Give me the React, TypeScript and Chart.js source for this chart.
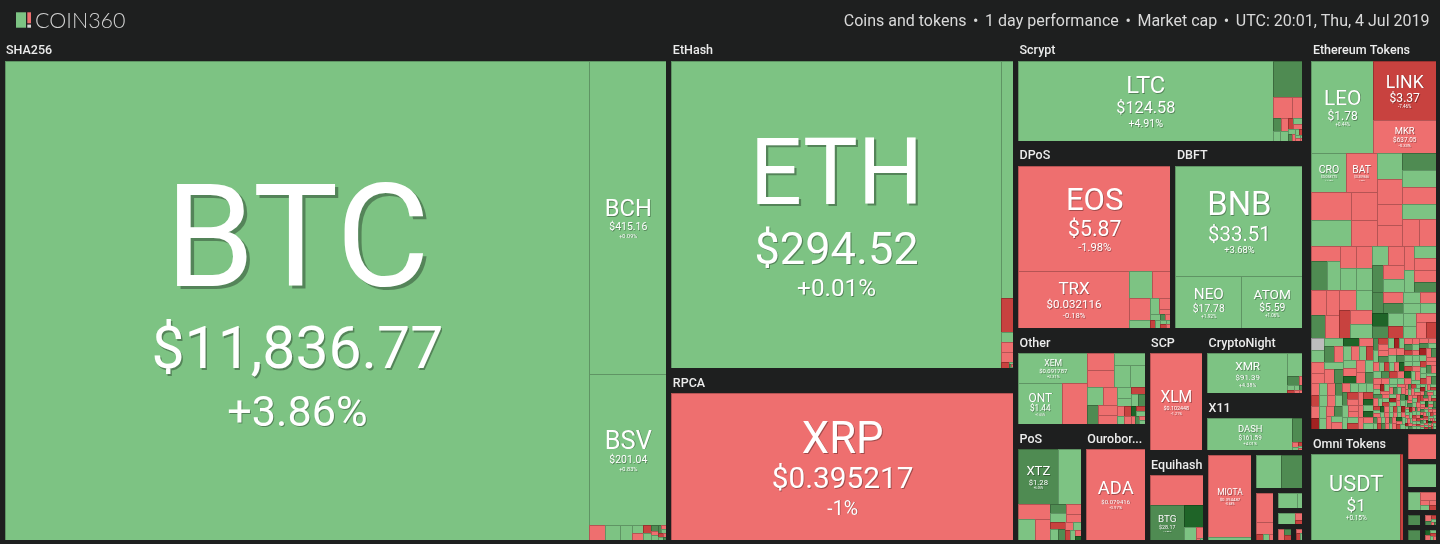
import React, { useEffect, useRef } from 'react';
import { Chart, registerables } from 'chart.js';

Chart.register(...registerables);

// [symbol, market-cap weight, price, 1-day change %]
type Coin = [string, number, string, number];
// [market-cap weight, 1-day change %] for unlabeled coins
type Small = [number, number];

const TITLE_INFO = ['Coins and tokens', '1 day performance', 'Market cap', 'UTC: 20:01, Thu, 4 Jul 2019'];
const BRAND = 'COIN360';

// ---------- Coins ----------
const SHA256_COINS: Coin[] = [
  ['BTC', 296800, '$11,836.77', 3.86],
  ['BCH', 25565, '$415.16', 0.09],
  ['BSV', 12390, '$201.04', 0.83],
];
const SHA256_SMALL: Small[] = [[237, -2.4], [222, 1.8], [192, 2.6], [80, 0.7], [75, -1.3], [70, -6.8], [60, 3.1], [40, 6.2], [35, -2.2], [30, 1.1], [25, 7.4], [22, -3.5], [20, 2.2], [18, -8.1], [15, 0.4], [12, -1.6], [10, 5.9]];

const ETHASH_COINS: Coin[] = [['ETH', 111098, '$294.52', 0.01]];
const ETHASH_SMALL: Small[] = [[3181, 2.9], [447, -6.9], [142, 1.4], [134, -2.7], [126, -1.9], [56, -7.3], [12, 2.1], [8, 6.5], [5, -3.2], [3, 1.2]];

const RPCA_COINS: Coin[] = [['XRP', 59425, '$0.395217', -1]];

const SCRYPT_COINS: Coin[] = [['LTC', 27250, '$124.58', 4.91]];
const SCRYPT_SMALL: Small[] = [[1433, 6.3], [557, -2.1], [298, -3.4], [150, 7.2], [110, -2.5], [100, 1.6], [95, 2.3], [80, -6.1], [70, 1.9], [60, -1.2], [50, 3.3], [40, 5.6], [35, -2.9], [30, 0.8], [25, -7.7], [20, 2.7], [15, -0.9], [12, 1.3], [10, -4.2]];

const DPOS_COINS: Coin[] = [
  ['EOS', 19047, '$5.87', -1.98],
  ['TRX', 7611, '$0.032116', -0.18],
];
const DPOS_SMALL: Small[] = [[740, 2.4], [600, -1.7], [556, -3.1], [207, 1.2], [160, 0.9], [160, -2.6], [70, -1.4], [60, 3.6], [50, -5.8], [45, 2.1], [40, 6.6], [35, -2.3], [30, 1.5], [28, -8.4], [25, 0.6], [21, -1.1]];

const DBFT_COINS: Coin[] = [
  ['BNB', 16815, '$33.51', 3.68],
  ['NEO', 4094, '$17.78', 1.92],
  ['ATOM', 3813, '$5.59', 1.06],
];

const OTHER_COINS: Coin[] = [
  ['XEM', 2917, '$0.091787', 2.31],
  ['ONT', 2500, '$1.44', 1.65],
];
const OTHER_SMALL: Small[] = [[1487, -2.8], [621, -1.9], [621, -3.6], [505, 2.2], [505, 1.4], [434, 3.1], [400, 0.8], [371, -2.4], [281, 6.1], [244, -1.3], [238, -2.2], [230, 1.7], [174, 2.9], [150, -7.1], [120, 1.1], [110, 6.8], [100, -1.8], [90, -9.2], [80, 2.5], [75, -3.3], [70, 11.4], [60, -6.4], [55, 1.9], [50, -1.1], [45, 7.9], [35, -2.6], [30, 0.7]];

const POS_COINS: Coin[] = [['XTZ', 3006, '$1.28', 6.05]];
const POS_SMALL: Small[] = [[1752, 2.7], [679, -2.3], [475, 1.6], [412, -3.1], [205, 6.4], [200, 2.2], [192, -1.4], [170, -2.8], [140, -6.2], [120, 1.3], [100, 7.1], [90, -1.9], [80, 3.4], [70, -8.8], [60, 1.1], [45, -2.5], [32, 12.6]];

const OUROBOROS_COINS: Coin[] = [['ADA', 7373, '$0.079416', -0.97]];
const SCP_COINS: Coin[] = [['XLM', 7018, '$0.102448', -1.21]];

const CRYPTONIGHT_COINS: Coin[] = [['XMR', 5500, '$91.39', 4.38]];
const CRYPTONIGHT_SMALL: Small[] = [[587, 2.1], [184, 6.7], [60, -2.2], [50, 1.4], [40, -7.5], [35, 2.6], [30, -1.3], [25, 5.2], [20, -3.9]];

const X11_COINS: Coin[] = [['DASH', 5137, '$161.59', 4.01]];
const X11_SMALL: Small[] = [[448, 5.8], [45, -2.3], [35, 1.2], [30, -6.6], [25, 2.4], [20, -1.7]];

const EQUIHASH_COINS: Coin[] = [['BTG', 1776, '$28.17', 7.06]];
const EQUIHASH_SMALL: Small[] = [[2440, -2.1], [640, 13.2], [226, 2.3], [118, -1.6], [12, -3.4], [8, 1.9]];

const TANGLE_COINS: Coin[] = [['MIOTA', 4090, '$0.394487', -0.68]];
const TANGLE_SMALL: Small[] = [[124, 1.3]];

const MISC_A: Small[] = [[1063, 2.2], [897, 6.4]];
const MISC_B: Small[] = [[709, -2.6], [312, -1.8], [56, -7.4], [40, 1.5], [31, -3.1]];
const MISC_C: Small[] = [[446, 2.8], [134, 1.6]];
const MISC_D: Small[] = [[320, 1.9], [80, -2.2], [50, -8.3]];
const MISC_E: Small[] = [[120, -1.4], [90, 7.3], [70, -5.6]];
const MISC_F: Small[] = [[80, -2.5], [60, -9.1], [44, 1.2]];

// ---------- Tokens ----------
const ERC20_COINS: Coin[] = [
  ['LEO', 6477, '$1.78', 0.44],
  ['LINK', 4283, '$3.37', -7.46],
  ['MKR', 2301, '$637.05', -0.33],
  ['CRO', 1550, '$0.058775', 1.16],
  ['BAT', 1411, '$0.309656', -1.92],
];
const ERC20_MID: Small[] = [
  [720, -2.2], [657, 1.9], [671, 6.3], [655, -1.4], [740, 2.6],
  [1247, -2.7], [809, -1.5], [1173, 1.8], [761, -3.2], [607, -2.1], [589, 2.4], [591, -1.1], [522, -2.9], [509, -0.7],
  [506, -3.4], [442, 1.3], [506, 7.1], [400, -2.6], [343, -1.8], [373, -3.9], [347, 2.1], [392, -2.3], [225, 6.2], [229, 8.4], [169, 1.6], [159, -1.2], [262, 5.7], [273, 3.3], [187, 2.2], [187, 0.9], [176, -6.6], [199, 1.4], [394, 2.8], [141, 14.2], [169, 3.6], [162, -2.4], [186, -1.7], [134, 1.1], [130, -3.1],
  [412, -2.3], [398, 1.7], [385, -3.1], [377, 6.4], [369, -1.2], [362, 2.8], [355, -6.7], [350, -0.8], [344, 3.6], [338, 7.9], [331, -2.6], [322, 1.1], [300, -2.2], [296, 3.4], [290, -1.3],
  [268, -1.4], [251, 6.2], [240, -3.3], [229, 12.4], [218, 2.1], [209, -7.1], [201, 1.6], [194, -2.8], [187, 0.9], [180, -4.4], [175, 0], [168, 5.3], [161, -1.7], [155, 2.8], [150, -3.9], [146, 7.5],
  [128, -2.7], [126, 1.9], [123, -6.3], [121, 3.7], [119, -1.2], [117, 10.8], [115, -3.4], [113, 2.2], [111, -0.7], [109, 5.1],
  [107, -2.9], [105, 1.5], [104, -9.6], [102, 2.6], [100, -1.8], [99, 6.3], [97, -4.1], [96, 0.6], [94, -2.4], [92, 3.9],
  [91, -13.2], [89, 1.2], [88, -1.6], [86, 7.7], [85, -3.2], [83, 2.3], [82, -0.4], [80, 4.6], [79, -5.4], [77, 1.7],
  [76, -2.2], [75, 11.9], [73, -1.3], [72, 2.8], [71, -6.9], [70, 0.9], [68, -3.7], [67, 5.8], [66, -1.9], [64, 2.1],
];
const ERC20_TAIL: Small[] = [
  [82, -2.1], [80, 7.4], [79, -1.4], [77, 2.6], [76, -8.2], [75, 1.1], [73, -3.3], [72, 4.4], [71, -0.9], [70, 13.7],
  [69, -2.6], [68, 1.8], [67, -5.7], [66, 3.1], [66, -1.7], [65, 6.6], [64, -12.4], [63, 2.2], [62, -3.9], [62, 0.7],
  [61, -1.2], [60, 8.8], [60, -2.8], [59, 1.6], [58, -6.1], [58, 2.9], [57, -1.1], [56, 5.2], [56, -4.6], [55, 1.3],
  [55, -2.3], [54, 10.2], [54, -7.8], [53, 2.4], [53, -1.6], [52, 3.8], [52, -2.9], [51, 6.1], [51, -0.8], [50, 1.9],
  [50, -9.4], [50, 2.7], [49, -1.9], [49, 0.4], [48, -3.1], [48, 7.2], [48, -2.2], [47, 1.4], [47, -14.1], [47, 3.3],
  [46, -1.5], [46, 5.7], [46, -2.7], [45, 1.2], [45, -6.8], [45, 2.5], [44, -1.0], [44, 11.3], [44, -3.6], [43, 0.8],
  [43, -2.4], [43, 4.9], [42, -8.9], [42, 1.7], [42, -1.3], [41, 6.4], [41, -2.0], [41, 2.0], [40, -5.1], [40, 1.0],
  [40, -1.8], [39, 8.3], [39, -3.0], [39, 2.6], [38, -10.7], [38, 1.5], [38, -2.5], [37, 5.5], [37, -1.2], [36, 3.2],
  [33, -1.7], [33, 2.3], [32, -6.4], [32, 1.8], [32, -2.6], [31, 9.1], [31, -1.1], [31, 3.4], [30, -4.8], [30, 0.6],
  [30, -13.5], [30, 2.9], [29, -2.2], [29, 6.8], [29, -0.7], [29, 1.5], [28, -7.3], [28, 2.1], [28, -1.9], [28, 12.2],
  [28, -3.4], [27, 1.1], [27, -2.8], [27, 5.9], [27, -1.4], [27, 2.7], [26, -9.8], [26, 0.9], [26, -2.5], [26, 7.7],
  [26, -1.6], [25, 3.1], [25, -5.5], [25, 1.3], [25, -2.1], [25, 4.2], [25, -11.2], [24, 2.4], [24, -1.3], [24, 6.3],
  [24, -3.7], [24, 1.6], [24, -2.3], [23, 10.6], [23, -0.8], [23, 2.2], [23, -6.6], [23, 1.9], [23, -1.7], [22, 5.1],
  [22, -2.9], [22, 0.7], [22, -8.1], [22, 3.6], [22, -1.2], [21, 2.8], [21, -4.1], [21, 14.4], [21, -2.4], [21, 1.4],
  [21, -1.5], [20, 6.9], [20, -3.2], [20, 2.0], [20, -7.6], [20, 1.2], [20, -1.8], [19, 4.7], [19, -12.8], [19, 2.5],
  [19, -2.0], [19, 8.6], [19, -1.0], [18, 1.7], [18, -5.9], [18, 3.0], [18, -2.7], [18, 0.5], [18, -9.1], [18, 5.4],
  [17, -1.6], [17, 2.3], [17, -3.5], [17, 11.8], [17, -0.9], [17, 1.8], [16, -6.2], [16, 2.6], [16, -2.2], [16, 7.1],
  [16, -1.4], [16, 1.0], [16, -10.3], [15, 3.9], [15, -2.6], [15, 1.5], [15, -4.4], [15, 6.0], [15, -1.1], [15, 2.2],
  [15, -7.0], [14, 0.8], [14, -2.8], [14, 4.5], [14, -1.7], [14, 1.3], [14, -13.9], [14, 2.9], [13, -2.1], [13, 9.7],
  [13, -0.6], [13, 1.6], [13, -5.3], [13, 3.3], [13, -1.9], [12, 2.1], [12, -8.4], [12, 1.1], [12, -2.4], [12, 6.2],
  [12, -1.3], [12, 2.7], [12, -3.8], [11, 13.1], [11, -1.5], [11, 1.9], [11, -6.9], [11, 2.4], [11, -2.0], [11, 5.0],
  [11, -1.0], [10, 1.4], [10, -9.5], [10, 3.5], [10, -2.6], [10, 0.9], [10, -4.9], [10, 7.9], [10, -1.4], [9, 2.0],
  [9, -11.7], [9, 1.2], [9, -2.3], [9, 4.0], [9, -1.8], [9, 2.8], [9, -7.4], [8, 1.7], [8, -2.9], [8, 10.9],
  [8, -1.2], [8, 2.5], [8, -5.7], [8, 1.5], [8, -2.2], [7, 6.7], [7, -0.7], [7, 2.2], [7, -8.8], [7, 1.0],
];

const OMNI_COINS: Coin[] = [['USDT', 10617, '$1', 0.15]];
const OMNI_SMALL: Small[] = [[329, -6.2]];

const TOKEN_T1: Small[] = [[1000, -2.3]];
const TOKEN_T2: Small[] = [[956, 1.9]];
const TOKEN_T3: Small[] = [[330, 2.4], [180, -1.6], [90, -3.7], [70, 1.1], [50, -2.9], [48, -7.8]];
const TOKEN_T4: Small[] = [[260, 6.1]];
const TOKEN_T5: Small[] = [[80, -2.1], [60, 5.5], [40, -7.2], [30, 1.4], [20, -1.2], [10, 8.8]];
const TOKEN_T6: Small[] = [[250, 6.6]];
const TOKEN_T7: Small[] = [[70, 12.1], [50, -2.4], [40, 1.8], [40, -6.3], [25, 0.9], [15, -1.5]];

// group table: [name, show header, labelled coins, other coins]
type GroupDef = [string, boolean, Coin[], Small[]];
const COIN_GROUPS: GroupDef[] = [
  ['SHA256', true, SHA256_COINS, SHA256_SMALL],
  ['EtHash', true, ETHASH_COINS, ETHASH_SMALL],
  ['RPCA', true, RPCA_COINS, []],
  ['Scrypt', true, SCRYPT_COINS, SCRYPT_SMALL],
  ['DPoS', true, DPOS_COINS, DPOS_SMALL],
  ['DBFT', true, DBFT_COINS, []],
  ['Other', true, OTHER_COINS, OTHER_SMALL],
  ['PoS', true, POS_COINS, POS_SMALL],
  ['Ouroboros', true, OUROBOROS_COINS, []],
  ['SCP', true, SCP_COINS, []],
  ['CryptoNight', true, CRYPTONIGHT_COINS, CRYPTONIGHT_SMALL],
  ['X11', true, X11_COINS, X11_SMALL],
  ['Equihash', true, EQUIHASH_COINS, EQUIHASH_SMALL],
  ['Tangle', false, TANGLE_COINS, TANGLE_SMALL],
  ['', false, [], MISC_A],
  ['', false, [], MISC_B],
  ['', false, [], MISC_C],
  ['', false, [], MISC_D],
  ['', false, [], MISC_E],
  ['', false, [], MISC_F],
];
const TOKEN_GROUPS: GroupDef[] = [
  ['Ethereum Tokens', true, ERC20_COINS, [...ERC20_MID, ...ERC20_TAIL]],
  ['Omni Tokens', true, OMNI_COINS, OMNI_SMALL],
  ['', false, [], TOKEN_T1],
  ['', false, [], TOKEN_T2],
  ['', false, [], TOKEN_T3],
  ['', false, [], TOKEN_T4],
  ['', false, [], TOKEN_T5],
  ['', false, [], TOKEN_T6],
  ['', false, [], TOKEN_T7],
];

// ---------- layout (binary treemap) ----------
type Rect = [number, number, number, number];
interface Leaf { sym: string; price: string; chg: number; value: number; r: Rect }
interface Group { name: string; header: boolean; value: number; children: Leaf[]; r: Rect }
interface Super { value: number; children: Group[]; r: Rect }

const W = 1440;
const H = 544;
const TOP = 36;
const SUPER_PAD = 2;
const GROUP_PAD = 2.5;
const HEADER_H = 20;

function binary<T extends { value: number }>(nodes: T[], rect: Rect, cb: (n: T, r: Rect) => void) {
  const n = nodes.length;
  if (!n) return;
  const sums = [0];
  for (let i = 0; i < n; i++) sums.push(sums[i] + nodes[i].value);
  const part = (i: number, j: number, value: number, x0: number, y0: number, x1: number, y1: number) => {
    if (i >= j - 1) { cb(nodes[i], [x0, y0, x1, y1]); return; }
    const off = sums[i];
    const target = value / 2 + off;
    let k = i + 1;
    let hi = j - 1;
    while (k < hi) {
      const mid = (k + hi) >>> 1;
      if (sums[mid] < target) k = mid + 1; else hi = mid;
    }
    if (target - sums[k - 1] < sums[k] - target && i + 1 < k) --k;
    const vl = sums[k] - off;
    const vr = value - vl;
    if (x1 - x0 > y1 - y0) {
      const xk = value ? (x0 * vr + x1 * vl) / value : x1;
      part(i, k, vl, x0, y0, xk, y1);
      part(k, j, vr, xk, y0, x1, y1);
    } else {
      const yk = value ? (y0 * vr + y1 * vl) / value : y1;
      part(i, k, vl, x0, y0, x1, yk);
      part(k, j, vr, x0, yk, x1, y1);
    }
  };
  part(0, n, sums[n], rect[0], rect[1], rect[2], rect[3]);
}

function makeGroup([name, header, coins, small]: GroupDef): Group {
  const children: Leaf[] = [
    ...coins.map(([sym, cap, price, chg]) => ({ sym, price, chg, value: cap, r: [0, 0, 0, 0] as Rect })),
    ...small.map(([cap, chg]) => ({ sym: '', price: '', chg, value: cap, r: [0, 0, 0, 0] as Rect })),
  ].sort((a, b) => b.value - a.value);
  return { name, header, value: children.reduce((s, c) => s + c.value, 0), children, r: [0, 0, 0, 0] };
}

function makeSuper(defs: GroupDef[]): Super {
  const children = defs.map(makeGroup).sort((a, b) => b.value - a.value);
  return { value: children.reduce((s, g) => s + g.value, 0), children, r: [0, 0, 0, 0] };
}

function buildLayout(): Super[] {
  const supers = [makeSuper(COIN_GROUPS), makeSuper(TOKEN_GROUPS)].sort((a, b) => b.value - a.value);
  binary(supers, [0, TOP, W, H], (s, r) => {
    s.r = r;
    const inner: Rect = [r[0] + SUPER_PAD, r[1] + SUPER_PAD, r[2] - SUPER_PAD, r[3] - SUPER_PAD];
    binary(s.children, inner, (g, gr) => {
      const box: Rect = [gr[0] + GROUP_PAD, gr[1] + GROUP_PAD, gr[2] - GROUP_PAD, gr[3] - GROUP_PAD];
      g.r = box;
      const content: Rect = [box[0], box[1] + (g.header ? HEADER_H : 0), box[2], box[3]];
      binary(g.children, content, (leaf, lr) => { leaf.r = lr; });
    });
  });
  return supers;
}

// ---------- drawing ----------
const BG = '#1e1f1f';
function colorFor(c: number): string {
  if (c === 0) return '#bdbdbd';
  if (c >= 10) return '#1f6428';
  if (c >= 5) return '#4f8b52';
  if (c > 0) return '#7dc383';
  if (c > -5) return '#ee6f6f';
  if (c > -10) return '#c8423f';
  return '#a32222';
}
function darker(hex: string, f: number): string {
  const n = parseInt(hex.slice(1), 16);
  const r = Math.round(((n >> 16) & 255) * f);
  const g = Math.round(((n >> 8) & 255) * f);
  const b = Math.round((n & 255) * f);
  return `rgb(${r},${g},${b})`;
}
function pctText(c: number): string {
  return (c > 0 ? '+' : c < 0 ? '-' : '') + Math.abs(c) + '%';
}
function fitText(ctx: CanvasRenderingContext2D, t: string, maxW: number): string {
  if (ctx.measureText(t).width <= maxW) return t;
  let s = t;
  while (s.length > 1 && ctx.measureText(s + '...').width > maxW) s = s.slice(0, -1);
  return s + '...';
}

const FONT = 'Roboto, "Noto Sans", sans-serif';

function drawAll(chart: Chart, supers: Super[]) {
  const ctx = chart.ctx;
  const xs = chart.scales.x;
  const ys = chart.scales.y;
  const X = (v: number) => xs.getPixelForValue(v);
  const Y = (v: number) => ys.getPixelForValue(v);
  ctx.save();
  ctx.fillStyle = BG;
  ctx.fillRect(X(0), Y(0), X(W) - X(0), Y(H) - Y(0));

  // header: logo
  ctx.fillStyle = '#7dc383';
  ctx.fillRect(X(16), Y(12.3), X(26) - X(16), Y(27.7) - Y(12.3));
  ctx.fillStyle = '#ee6f6f';
  ctx.fillRect(X(27.3), Y(12.3), X(31) - X(27.3), Y(23.3) - Y(12.3));
  ctx.fillStyle = '#d4d4d4';
  ctx.fillRect(X(27.3), Y(24.6), X(31) - X(27.3), Y(27.7) - Y(24.6));
  ctx.font = '300 21.5px Lato, Roboto, sans-serif';
  ctx.textAlign = 'left';
  ctx.textBaseline = 'alphabetic';
  ctx.fillStyle = '#d2d2d2';
  ctx.fillText(BRAND, X(35), Y(27.8));

  // header: info line, right aligned, bullet separated
  ctx.font = `400 16px ${FONT}`;
  ctx.fillStyle = '#d9d9d9';
  ctx.textAlign = 'left';
  const sepW = ctx.measureText(' • ').width + 5.3;
  const segW = TITLE_INFO.map((s) => ctx.measureText(s).width);
  const totalW = segW.reduce((a, b) => a + b, 0) + sepW * (TITLE_INFO.length - 1);
  let tx = X(1429.5) - totalW;
  TITLE_INFO.forEach((s, i) => {
    ctx.fillText(s, tx, Y(26));
    tx += segW[i];
    if (i < TITLE_INFO.length - 1) {
      ctx.textAlign = 'center';
      ctx.fillText('•', tx + sepW / 2, Y(26));
      ctx.textAlign = 'left';
      tx += sepW;
    }
  });

  // cells
  for (const s of supers) {
    for (const g of s.children) {
      if (g.header) {
        ctx.font = `500 12.5px ${FONT}`;
        ctx.textAlign = 'left';
        ctx.fillStyle = '#ececec';
        const lab = fitText(ctx, g.name, X(g.r[2]) - X(g.r[0]) - 1);
        ctx.fillText(lab, X(g.r[0] + 1.5), Y(g.r[1] + 13.6));
      }
      for (const l of g.children) {
        const x0 = Math.round(X(l.r[0]));
        const y0 = Math.round(Y(l.r[1]));
        const x1 = Math.round(X(l.r[2]));
        const y1 = Math.round(Y(l.r[3]));
        const w = x1 - x0;
        const h = y1 - y0;
        if (w <= 0 || h <= 0) continue;
        const col = colorFor(l.chg);
        ctx.fillStyle = darker(col, 0.76);
        ctx.fillRect(x0, y0, w, h);
        if (w > 1 && h > 1) {
          ctx.fillStyle = col;
          ctx.fillRect(x0 + 1, y0 + 1, w - 1, h - 1);
        }
      }
    }
  }

  // labels of named coins
  ctx.textAlign = 'center';
  for (const s of supers) {
    for (const g of s.children) {
      for (const l of g.children) {
        if (!l.sym) continue;
        const x0 = X(l.r[0]) + 1;
        const y0 = Y(l.r[1]) + 1;
        const x1 = X(l.r[2]);
        const y1 = Y(l.r[3]);
        const w = x1 - x0;
        const h = y1 - y0;
        ctx.font = `400 100px ${FONT}`;
        const symEm = ctx.measureText(l.sym).width / 100;
        const priceEm = ctx.measureText(l.price).width / 100;
        const S = Math.min(0.3 * h, (0.62 * w) / symEm);
        const P = Math.min((0.5 * w) / priceEm, 0.205 * h);
        const C = Math.min(0.074 * w, 0.135 * h);
        const cap = 0.711;
        const gap1 = 0.2 * S + 0.2 * P;
        const gap2 = 0.62 * C;
        const total = cap * S + gap1 + cap * P + gap2 + cap * C;
        const top = (y0 + y1) / 2 - total / 2 + 0.03 * S;
        const cx = (x0 + x1) / 2;
        const b1 = top + cap * S;
        const b2 = b1 + gap1 + cap * P;
        const b3 = b2 + gap2 + cap * C;
        ctx.shadowColor = 'rgba(0,0,0,0.32)';
        ctx.shadowBlur = 0;
        ctx.fillStyle = '#ffffff';
        const lines: [string, number, number][] = [[l.sym, S, b1], [l.price, P, b2], [pctText(l.chg), C, b3]];
        for (const [t, f, b] of lines) {
          ctx.font = `400 ${f}px ${FONT}`;
          const off = Math.max(0.8, f * 0.024);
          ctx.shadowOffsetX = off;
          ctx.shadowOffsetY = off;
          ctx.fillText(t, cx, b);
        }
        ctx.shadowColor = 'transparent';
        ctx.shadowOffsetX = 0;
        ctx.shadowOffsetY = 0;
      }
    }
  }
  ctx.restore();
}

export default function App() {
  const ref = useRef<HTMLCanvasElement>(null);
  useEffect(() => {
    const canvas = ref.current;
    if (!canvas) return;
    const supers = buildLayout();
    const treemapPlugin = {
      id: 'coinTreemap',
      beforeDatasetsDraw(chart: Chart) { drawAll(chart, supers); },
    };
    const chart = new Chart(canvas, {
      type: 'scatter',
      data: { datasets: [{ data: [] }] },
      options: {
        animation: false,
        responsive: false,
        events: [],
        layout: { padding: 0 },
        plugins: { legend: { display: false }, tooltip: { enabled: false } },
        scales: {
          x: { type: 'linear', min: 0, max: W, display: false },
          y: { type: 'linear', min: 0, max: H, reverse: true, display: false },
        },
      },
      plugins: [treemapPlugin],
    });
    let alive = true;
    const fonts = (document as any).fonts;
    if (fonts && fonts.load) {
      Promise.all([
        fonts.load('400 20px Roboto'),
        fonts.load('500 14px Roboto'),
        fonts.load('300 22px Lato'),
      ]).then(() => { if (alive) chart.draw(); }).catch(() => {});
    }
    return () => { alive = false; chart.destroy(); };
  }, []);
  return (
    <div style={{ position: 'fixed', left: 0, top: 0, width: W, height: H, background: BG }}>
      <canvas ref={ref} width={W} height={H} style={{ display: 'block' }} />
    </div>
  );
}
